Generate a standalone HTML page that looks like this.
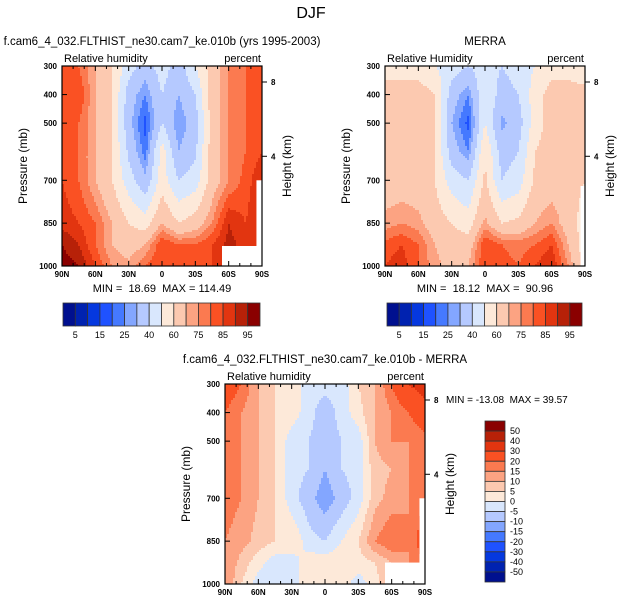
<!DOCTYPE html>
<html><head><meta charset="utf-8">
<style>
body{margin:0;background:#fff;}
svg{display:block;font-family:"Liberation Sans",Arial,sans-serif;}
text{white-space:pre;}
.tk{font-size:8px;font-weight:bold;}
</style></head>
<body>
<svg id="fig" width="622" height="606" viewBox="0 0 622 606">
<text x="311" y="18" font-size="16" text-anchor="middle">DJF</text>
</svg>
<script>
// ---- data ----
const lats = [90,75,60,45,30,15,0,-15,-30,-45,-60,-75,-90];
const pressures = [300,400,500,600,700,850,925,1000];
const modelRH = [
 [80,80,70,60,45,35,45,35,50,65,75,80,85],
 [85,85,70,60,35,25,40,30,40,65,75,80,85],
 [85,80,70,60,33,18,40,25,35,65,75,80,85],
 [85,80,70,60,38,22,55,30,38,65,75,80,85],
 [85,80,70,60,45,32,55,40,45,65,75,82,90],
 [88,85,80,70,60,55,70,60,65,75,90,85,90],
 [95,90,80,70,65,70,85,80,80,85,92,88,90],
 [98,95,85,75,72,80,85,85,85,85,88,88,90]];
const merraRH = [
 [55,55,55,50,45,40,45,40,45,50,55,55,50],
 [65,65,65,60,35,25,50,35,40,55,65,65,65],
 [65,65,65,60,30,18,50,28,35,55,65,65,65],
 [65,65,65,60,35,25,60,35,40,60,65,65,62],
 [65,65,65,60,45,40,62,40,45,62,65,65,60],
 [72,75,72,65,60,55,72,60,62,70,75,65,55],
 [82,85,80,70,65,65,85,80,78,80,85,70,55],
 [85,88,80,72,67,70,85,82,80,85,90,75,55]];
const diffRH = [
 [25,20,10,5,3,-3,-3,-3,5,10,20,30,35],
 [20,15,10,5,3,-3,-8,-3,3,10,15,20,25],
 [18,15,10,5,-3,-5,-8,-5,-3,10,15,15,18],
 [18,15,10,5,-3,-5,-10,-5,-3,8,10,15,18],
 [18,15,10,5,-3,-8,-13,-8,-3,8,12,15,20],
 [15,12,8,5,5,-3,-5,0,5,15,20,15,25],
 [15,8,2,-3,-3,3,3,3,3,5,10,15,20],
 [15,5,-3,-3,-3,3,3,3,-3,3,10,15,20]];
const absLevels = [5,10,15,20,25,30,40,50,60,70,75,80,85,90,95];
const absLabels = ["5","15","25","40","60","75","85","95"];
const diffLevels = [-50,-40,-30,-20,-15,-10,-5,0,5,10,15,20,30,40,50];
const latTickLabels = ["90N","60N","30N","0","30S","60S","90S"];
const latTicks = [90,60,30,0,-30,-60,-90];
const presTicks = [300,400,500,700,850,1000];
const heightTicks = [8,4];
const heightTickP = [356,616];
const colors = ["#00108f","#0022b0","#0538df","#1f52ff","#4579ff","#83a6ff","#b5c9ff","#d9e7fd","#fde9d9","#fcc9b0","#fca382","#fb7a50","#fa5123","#e23510","#b72108","#8a0000"];

const NS="http://www.w3.org/2000/svg";
const svg=document.getElementById('fig');
function el(t,a,p){const e=document.createElementNS(NS,t);for(const k in a)e.setAttribute(k,a[k]);(p||svg).appendChild(e);return e;}
function txt(s,a,p){const e=el('text',a,p);e.textContent=s;return e;}
function colorFor(v,lev){let i=0;while(i<lev.length&&v>=lev[i])i++;return colors[i];}
function sample(grid,lat,p){
  let fi=(90-lat)/15; let i0=Math.max(0,Math.min(Math.floor(fi),11)); let fx=fi-i0;
  let j0=0; while(j0<pressures.length-2&&p>pressures[j0+1])j0++;
  let fy=(p-pressures[j0])/(pressures[j0+1]-pressures[j0]);
  const a=grid[j0][i0],b=grid[j0][i0+1],c=grid[j0+1][i0],d=grid[j0+1][i0+1];
  return a*(1-fx)*(1-fy)+b*fx*(1-fy)+c*(1-fx)*fy+d*fx*fy;
}
function panel(name,x0,y0,grid,lev,title,left,masks){
  const g=el('g',{},svg);
  
  
  const W=200,H=200;
  const xs=lat=>x0+(90-lat)/180*W;
  const ys=p=>y0+(p-300)/700*H;
  const step=2;
  for(let py=0;py<H;py+=step){
    const p=300+(py+step/2)/H*700;
    let runStart=0,runCol=null;
    for(let px=0;px<=W;px+=step){
      let col=null;
      if(px<W){const lat=90-(px+step/2)/W*180;col=colorFor(sample(grid,lat,p),lev);}
      if(col!==runCol){
        if(runCol!==null){const r=el('rect',{x:x0+runStart,y:y0+py,width:px-runStart+0.5,height:step+0.5,fill:runCol},g);
          
          }
        runStart=px;runCol=col;
      }
    }
  }
  (masks||[]).forEach(m=>{el('rect',{x:xs(m[0]),y:ys(m[1]),width:xs(m[2])-xs(m[0]),height:ys(m[3])-ys(m[1]),fill:'#fff'},g);});
  el('rect',{x:x0,y:y0,width:W,height:H,fill:'none',stroke:'#000','stroke-width':1.2},g);
  for(let l=90;l>=-90;l-=10){const x=xs(l);const maj=l%30===0;
    el('line',{x1:x,x2:x,y1:y0+H,y2:y0+H-(maj?5:3),stroke:'#000','stroke-width':1},g);
    el('line',{x1:x,x2:x,y1:y0,y2:y0+(maj?5:3),stroke:'#000','stroke-width':1},g);}
  latTicks.forEach((l,i)=>{const t=txt(latTickLabels[i],{x:xs(l),y:y0+H+11,'text-anchor':'middle',class:'tk'},g);
    });
  presTicks.forEach(p=>{const y=ys(p);el('line',{x1:x0,x2:x0+5,y1:y,y2:y,stroke:'#000'},g);
    const t=txt(String(p),{x:x0-5,y:y+3,'text-anchor':'end',class:'tk'},g);
    });
  heightTicks.forEach((h,i)=>{const y=ys(heightTickP[i]);el('line',{x1:x0+W,x2:x0+W+5,y1:y,y2:y,stroke:'#000'},g);
    txt(String(h),{x:x0+W+9,y:y+3,class:'tk'},g);});
  const yt=txt('Pressure (mb)',{x:0,y:0,'font-size':12,'text-anchor':'middle',transform:`translate(${x0-35},${y0+H/2}) rotate(-90)`},g);
  
  const ht=txt('Height (km)',{x:0,y:0,'font-size':12,'text-anchor':'middle',transform:`translate(${x0+W+29},${y0+H/2}) rotate(-90)`},g);
  
  txt(left,{x:x0+2,y:y0-4,'font-size':11},g);
  txt('percent',{x:x0+W-1,y:y0-4,'font-size':11,'text-anchor':'end'},g);
  const tt=txt(title,{x:x0+W/2,y:y0-21,'font-size':11.5,'text-anchor':'middle'},g);
  
}
panel('model-panel',62,66,modelRH,absLevels,'f.cam6_4_032.FLTHIST_ne30.cam7_ke.010b (yrs 1995-2003)','Relative humidity',[[-54,930,-90,1000],[-85,700,-90,1000]]);
panel('merra-panel',385,66,merraRH,absLevels,'MERRA','Relative Humidity',[[-86,720,-90,1000]]);
panel('difference-panel',225,384,diffRH,diffLevels,'f.cam6_4_032.FLTHIST_ne30.cam7_ke.010b - MERRA','Relative humidity',[[-54,925,-90,1000],[-85,700,-90,1000]]);

txt('MIN =  18.69  MAX = 114.49',{x:162,y:292,'font-size':11,'text-anchor':'middle'});
txt('MIN =  18.12  MAX =  90.96',{x:485,y:292,'font-size':11,'text-anchor':'middle'});
txt('MIN = -13.08  MAX = 39.57',{x:446,y:403,'font-size':10});

function hbar(name,x0,x1,y0,h){
  const g=el('g',{},svg);
  const w=(x1-x0)/colors.length;
  colors.forEach((c,i)=>{const r=el('rect',{x:x0+i*w,y:y0,width:w,height:h,fill:c,stroke:'#333','stroke-width':0.8},g);
    });
  absLabels.forEach((s,i)=>txt(s,{x:x0+(1+2*i)*w,y:y0+h+12,'font-size':9,'text-anchor':'middle'},g));
}
hbar('colorbar-model',63,260,303,23);
hbar('colorbar-merra',387,582,303,23);
(function(){
  const g=el('g',{},svg);
  const x0=485,y0=421,y1=582,w=20,h=(y1-y0)/colors.length;
  colors.slice().reverse().forEach((c,i)=>{const r=el('rect',{x:x0,y:y0+i*h,width:w,height:h,fill:c,stroke:'#333','stroke-width':0.8},g);
    });
  diffLevels.slice().reverse().forEach((v,i)=>txt(String(v),{x:x0+w+5,y:y0+(i+1)*h+3,'font-size':9},g));
})();
</script>
</body></html>
